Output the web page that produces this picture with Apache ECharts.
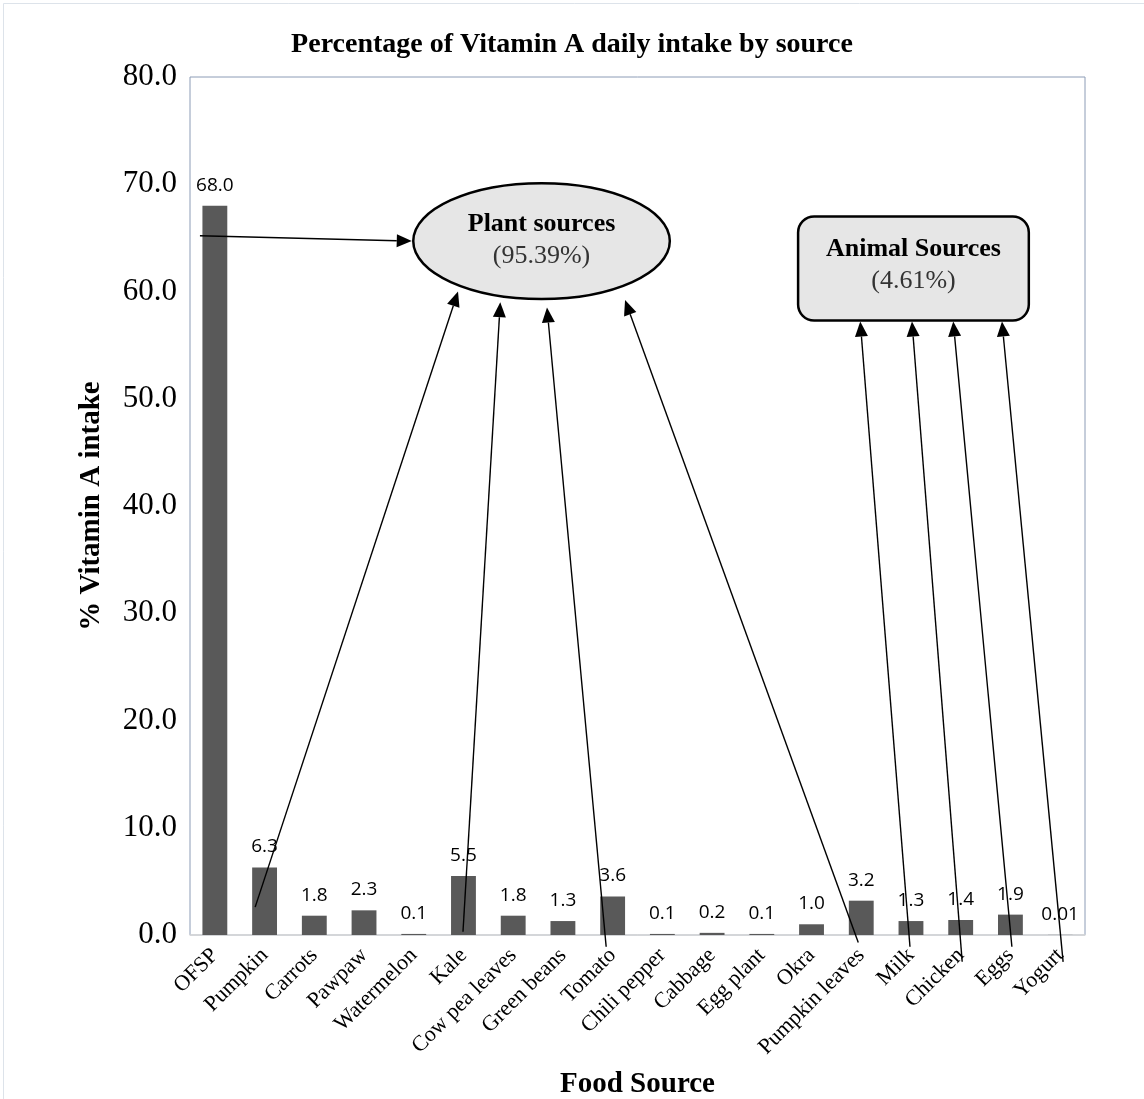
<!DOCTYPE html>
<html>
<head>
<meta charset="utf-8">
<script src="https://cdn.jsdelivr.net/npm/echarts@6/dist/echarts.min.js"></script>
<style>
  html, body { margin: 0; padding: 0; background: #fff; }
  #chart { width: 1144px; height: 1099px; }
</style>
</head>
<body>
<div id="chart"></div>
<script>
// chart data
const foods = ['OFSP', 'Pumpkin', 'Carrots', 'Pawpaw', 'Watermelon', 'Kale', 'Cow pea leaves',
  'Green beans', 'Tomato', 'Chili pepper', 'Cabbage', 'Egg plant', 'Okra', 'Pumpkin leaves',
  'Milk', 'Chicken', 'Eggs', 'Yogurt'];
const intake = [68.0, 6.3, 1.8, 2.3, 0.1, 5.5, 1.8, 1.3, 3.6, 0.1, 0.2, 0.1, 1.0, 3.2, 1.3, 1.4, 1.9, 0.01];
const intakeLabels = ['68.0', '6.3', '1.8', '2.3', '0.1', '5.5', '1.8', '1.3', '3.6', '0.1', '0.2', '0.1',
  '1.0', '3.2', '1.3', '1.4', '1.9', '0.01'];

const plantTitle = 'Plant sources';
const plantShare = '(95.39%)';
const animalTitle = 'Animal Sources';
const animalShare = '(4.61%)';

// annotation arrows, in axis units: [fromCategory, fromValue, toCategory, toValue]
const arrows = [
  [-0.30, 65.2, 3.96, 64.7],
  [0.81, 2.6, 4.89, 60.0],
  [4.99, 0.3, 5.74, 59.0],
  [7.87, -1.1, 6.68, 58.5],
  [12.94, -0.7, 8.25, 59.2],
  [13.98, -1.1, 12.98, 57.2],
  [15.03, -2.5, 14.02, 57.2],
  [16.03, -1.1, 14.85, 57.2],
  [17.06, -2.5, 15.83, 57.2]
];
// shapes in axis units: [leftCategory, rightCategory, topValue, bottomValue]
const plantEllipse = [3.99, 9.15, 70.1, 59.3];
const animalBox = [11.73, 16.37, 67.0, 57.3];

const serif = '"Liberation Serif", "Times New Roman", serif';

const chart = echarts.init(document.getElementById('chart'));

const option = {
  animation: false,
  backgroundColor: '#fff',
  title: {
    text: 'Percentage of Vitamin A daily intake by source',
    left: 'center',
    top: 26,
    padding: [5, 0, 5, 16],
    textStyle: { fontFamily: serif, fontWeight: 'bold', fontSize: 28, color: '#000' }
  },
  grid: {
    left: 190, right: 59, top: 77, bottom: 164,
    outerBoundsMode: 'none',
    show: true,
    borderColor: '#8c9cb6',
    borderWidth: 1
  },
  xAxis: {
    type: 'category',
    data: foods,
    name: 'Food Source',
    nameLocation: 'middle',
    nameGap: 135,
    nameTextStyle: { fontFamily: serif, fontWeight: 'bold', fontSize: 29, color: '#000' },
    axisLine: { lineStyle: { color: '#d9d9d9', width: 1.5 } },
    axisTick: { show: false },
    axisLabel: {
      interval: 0, rotate: 45, margin: 17,
      fontFamily: serif, fontSize: 22, color: '#000'
    }
  },
  yAxis: {
    type: 'value',
    min: 0, max: 80, interval: 10,
    name: '% Vitamin A intake',
    nameLocation: 'middle',
    nameGap: 84,
    nameTextStyle: { fontFamily: serif, fontWeight: 'bold', fontSize: 29, color: '#000' },
    axisLine: { show: false },
    axisTick: { show: false },
    splitLine: { show: false },
    axisLabel: {
      margin: 13,
      fontFamily: serif, fontSize: 31, color: '#000',
      formatter: v => v.toFixed(1)
    }
  },
  series: [{
    type: 'bar',
    data: intake,
    barWidth: '50%',
    itemStyle: { color: '#595959' },
    label: {
      show: true,
      position: 'top',
      distance: 11,
      fontFamily: '"Open Sans", "Liberation Sans", sans-serif',
      fontSize: 19,
      color: '#000',
      formatter: p => intakeLabels[p.dataIndex]
    }
  }]
};

chart.setOption(option);

// map axis units to pixels through the chart's own axes
const p0 = chart.convertToPixel({ gridIndex: 0 }, [0, 0]);
const p1 = chart.convertToPixel({ gridIndex: 0 }, [foods.length - 1, 80]);
function toPx(c, v) {
  return [
    p0[0] + (p1[0] - p0[0]) * c / (foods.length - 1),
    p0[1] + (p1[1] - p0[1]) * v / 80
  ];
}

const graphics = [];

// faint outer frame
graphics.push({
  type: 'rect', silent: true,
  shape: { x: 3.5, y: 3.5, width: 1160, height: 1120 },
  style: { fill: null, stroke: '#dde3ea', lineWidth: 1 }
});

arrows.forEach(a => {
  const s = toPx(a[0], a[1]);
  const e = toPx(a[2], a[3]);
  const dx = e[0] - s[0], dy = e[1] - s[1];
  const len = Math.sqrt(dx * dx + dy * dy);
  const ux = dx / len, uy = dy / len;
  const hl = 15, hw = 6.5;
  const bx = e[0] - ux * hl, by = e[1] - uy * hl;
  graphics.push({
    type: 'line', silent: true, z: 10,
    shape: { x1: s[0], y1: s[1], x2: bx, y2: by },
    style: { stroke: '#000', lineWidth: 1.4 }
  });
  graphics.push({
    type: 'polygon', silent: true, z: 10,
    shape: { points: [e, [bx - uy * hw, by + ux * hw], [bx + uy * hw, by - ux * hw]] },
    style: { fill: '#000' }
  });
});

const eTL = toPx(plantEllipse[0], plantEllipse[2]);
const eBR = toPx(plantEllipse[1], plantEllipse[3]);
const ecx = (eTL[0] + eBR[0]) / 2, ecy = (eTL[1] + eBR[1]) / 2;
graphics.push({
  type: 'ellipse', silent: true, z: 11,
  shape: { cx: ecx, cy: ecy, rx: (eBR[0] - eTL[0]) / 2, ry: (eBR[1] - eTL[1]) / 2 },
  style: { fill: '#e6e6e6', stroke: '#000', lineWidth: 2.5 }
});
graphics.push({
  type: 'text', silent: true, z: 12,
  style: { text: plantTitle, x: ecx, y: ecy - 17, align: 'center', verticalAlign: 'middle',
    fontFamily: serif, fontWeight: 'bold', fontSize: 26, fill: '#000' }
});
graphics.push({
  type: 'text', silent: true, z: 12,
  style: { text: plantShare, x: ecx, y: ecy + 15, align: 'center', verticalAlign: 'middle',
    fontFamily: serif, fontSize: 26, fill: '#333' }
});

const bTL = toPx(animalBox[0], animalBox[2]);
const bBR = toPx(animalBox[1], animalBox[3]);
const bcx = (bTL[0] + bBR[0]) / 2, bcy = (bTL[1] + bBR[1]) / 2;
graphics.push({
  type: 'rect', silent: true, z: 11,
  shape: { x: bTL[0], y: bTL[1], width: bBR[0] - bTL[0], height: bBR[1] - bTL[1], r: 16 },
  style: { fill: '#e6e6e6', stroke: '#000', lineWidth: 2.5 }
});
graphics.push({
  type: 'text', silent: true, z: 12,
  style: { text: animalTitle, x: bcx, y: bcy - 19, align: 'center', verticalAlign: 'middle',
    fontFamily: serif, fontWeight: 'bold', fontSize: 26, fill: '#000' }
});
graphics.push({
  type: 'text', silent: true, z: 12,
  style: { text: animalShare, x: bcx, y: bcy + 13, align: 'center', verticalAlign: 'middle',
    fontFamily: serif, fontSize: 26, fill: '#333' }
});

chart.setOption({ graphic: graphics });
</script>
</body>
</html>
